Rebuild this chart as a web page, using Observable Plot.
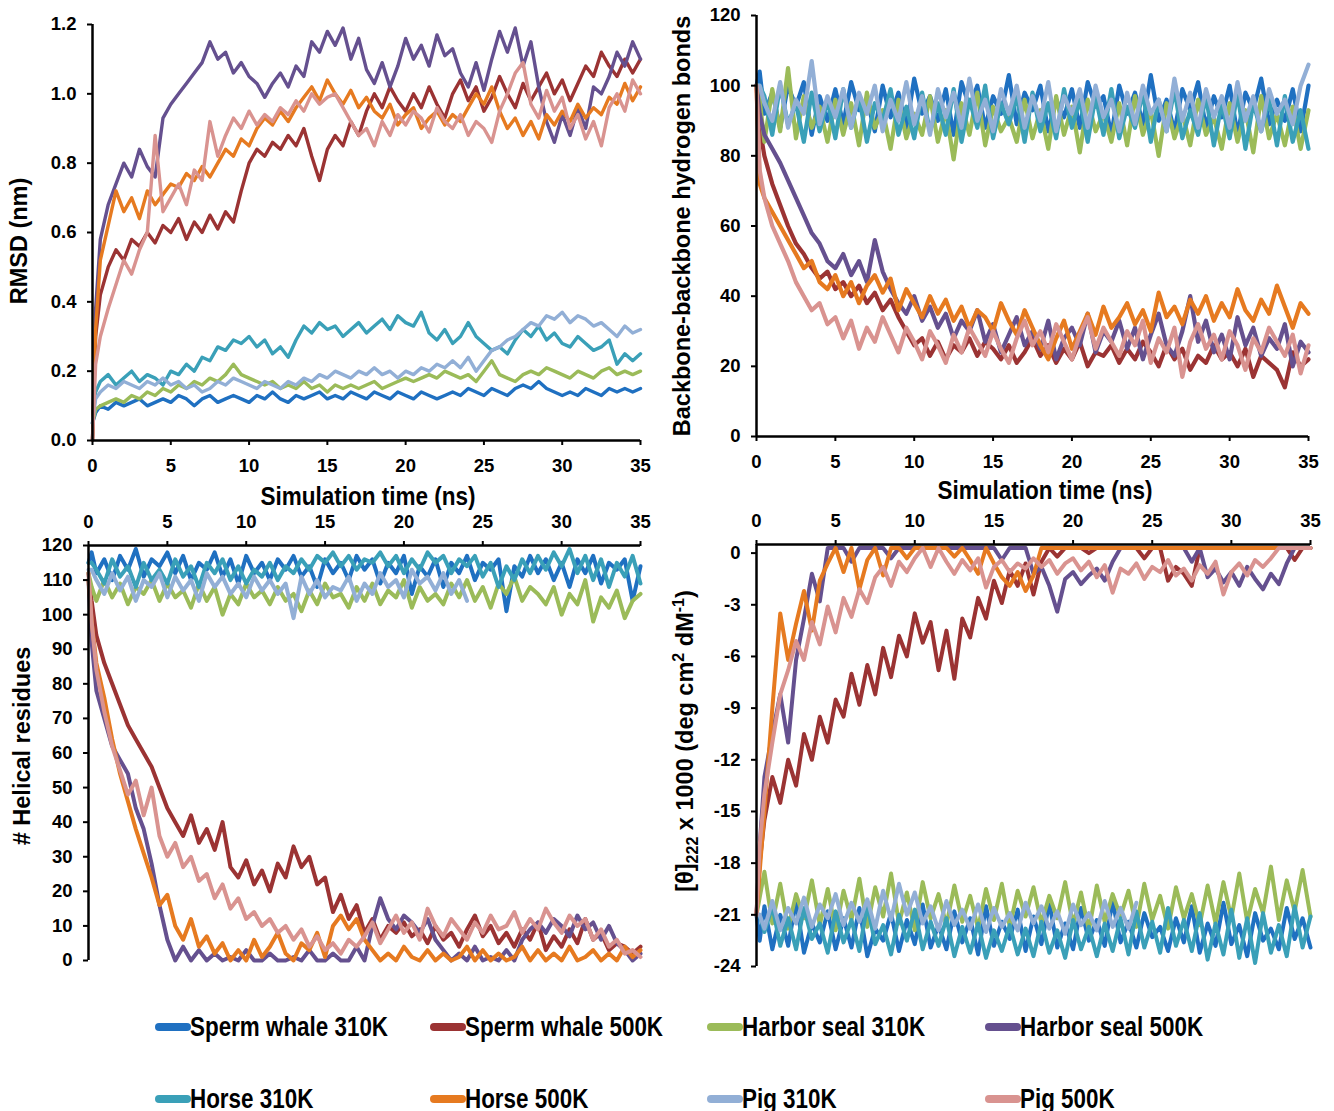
<!DOCTYPE html>
<html><head><meta charset="utf-8">
<script src="https://cdn.jsdelivr.net/npm/d3@7"></script>
<script src="https://cdn.jsdelivr.net/npm/@observablehq/plot@0.6"></script>
<style>
body{margin:0;background:#fff;width:1334px;height:1111px;position:relative;overflow:hidden;font-family:"Liberation Sans",Arial,sans-serif;color:#000}
.panel{position:absolute}
.ylab{position:absolute;font-weight:bold;font-size:23.5px;white-space:nowrap;transform:translate(-50%,-50%) rotate(-90deg);line-height:1}
.xlab{position:absolute;font-weight:bold;font-size:25px;white-space:nowrap;transform:translate(-50%,-50%) scaleX(0.9);line-height:1}
.sw{position:absolute;width:36px;height:8px;border-radius:4px}
.lt{position:absolute;font-weight:bold;font-size:27px;white-space:nowrap;transform:translateY(-50%) scaleX(0.83);transform-origin:left center;line-height:1}
</style></head>
<body>
<div id="tl" class="panel" style="left:0;top:0"></div>
<div id="tr" class="panel" style="left:670px;top:0"></div>
<div id="bl" class="panel" style="left:0;top:500px"></div>
<div id="br" class="panel" style="left:670px;top:500px"></div>
<div class="ylab" style="left:20px;top:241px">RMSD (nm)</div>
<div class="ylab" style="left:683px;top:226px">Backbone-backbone hydrogen bonds</div>
<div class="ylab" style="left:23px;top:746px"># Helical residues</div>
<div class="ylab" style="left:686px;top:741px">[θ]<sub style="font-size:16px">222</sub> x 1000 (deg cm<sup style="font-size:16px">2</sup> dM<sup style="font-size:16px">-1</sup>)</div>
<div class="xlab" style="left:368px;top:496px">Simulation time (ns)</div>
<div class="xlab" style="left:1045px;top:490px">Simulation time (ns)</div>
<div id="legend"></div>
<script>
const NAMES = ["Sperm whale 310K","Sperm whale 500K","Harbor seal 310K","Harbor seal 500K","Horse 310K","Horse 500K","Pig 310K","Pig 500K"];
const COLORS = ["#1f70c1","#9b3333","#9bbb59","#65508f","#3aa0b8","#e67a20","#92afd6","#d99390"];
const XTICKS = [0,5,10,15,20,25,30,35];

const T = [0,0.2,0.5,1,1.5,2,2.5,3,3.5,4,4.5,5,
 5.5,6,6.5,7,7.5,8,8.5,9,9.5,10,10.5,11,
 11.5,12,12.5,13,13.5,14,14.5,15,15.5,16,16.5,17,
 17.5,18,18.5,19,19.5,20,20.5,21,21.5,22,22.5,23,
 23.5,24,24.5,25,25.5,26,26.5,27,27.5,28,28.5,29,
 29.5,30,30.5,31,31.5,32,32.5,33,33.5,34,34.5,35];

// ---- RMSD (nm)
const rmsdTicks = [0,0.2,0.4,0.6,0.8,1.0,1.2];
const rmsdSperm310 = [0.05,0.08,0.10,0.09,0.11,0.10,0.11,0.12,0.10,0.11,0.12,0.11,
 0.13,0.12,0.10,0.12,0.13,0.11,0.12,0.13,0.12,0.11,0.13,0.12,
 0.14,0.12,0.11,0.13,0.12,0.13,0.14,0.12,0.13,0.12,0.14,0.13,
 0.12,0.14,0.13,0.12,0.14,0.13,0.12,0.14,0.13,0.12,0.13,0.14,
 0.13,0.15,0.14,0.13,0.15,0.14,0.13,0.15,0.16,0.15,0.17,0.15,
 0.14,0.13,0.14,0.13,0.15,0.14,0.13,0.15,0.14,0.15,0.14,0.15];
const rmsdSperm500 = [0.00,0.30,0.42,0.50,0.55,0.52,0.58,0.56,0.60,0.57,0.62,0.60,
 0.64,0.58,0.63,0.60,0.65,0.61,0.66,0.63,0.72,0.80,0.84,0.82,
 0.86,0.84,0.88,0.85,0.90,0.82,0.75,0.84,0.88,0.85,0.92,0.88,
 0.95,1.00,0.96,1.02,0.98,0.95,1.00,0.96,1.02,0.97,0.93,1.00,
 1.04,0.98,1.02,0.95,0.99,1.05,1.00,0.96,1.03,0.98,1.02,1.06,
 1.00,1.04,0.98,1.03,1.08,1.05,1.12,1.08,1.05,1.10,1.06,1.10];
const rmsdSeal310 = [0.05,0.09,0.10,0.11,0.12,0.11,0.13,0.12,0.14,0.13,0.15,0.14,
 0.16,0.15,0.17,0.16,0.18,0.17,0.19,0.22,0.19,0.18,0.17,0.16,
 0.17,0.15,0.16,0.15,0.17,0.15,0.16,0.14,0.16,0.15,0.16,0.15,
 0.16,0.17,0.15,0.16,0.17,0.18,0.17,0.18,0.19,0.18,0.20,0.19,
 0.18,0.19,0.17,0.20,0.23,0.19,0.18,0.17,0.19,0.20,0.19,0.21,
 0.20,0.19,0.18,0.20,0.19,0.18,0.20,0.21,0.19,0.20,0.19,0.20];
const rmsdSeal500 = [0.00,0.38,0.58,0.68,0.74,0.80,0.76,0.84,0.79,0.76,0.93,0.97,
 1.00,1.03,1.06,1.09,1.15,1.10,1.12,1.06,1.09,1.05,1.03,0.99,
 1.03,1.06,1.02,1.08,1.05,1.15,1.12,1.18,1.14,1.19,1.10,1.16,
 1.07,1.03,1.09,1.02,1.08,1.16,1.10,1.14,1.08,1.17,1.11,1.13,
 1.06,1.02,1.09,1.01,1.10,1.18,1.12,1.19,1.08,1.15,1.02,0.92,
 0.86,0.94,0.88,0.96,0.90,1.02,1.00,1.05,1.12,1.08,1.15,1.10];
const rmsdHorse310 = [0.05,0.14,0.17,0.19,0.16,0.18,0.20,0.17,0.19,0.18,0.16,0.20,
 0.19,0.22,0.20,0.24,0.23,0.27,0.26,0.29,0.28,0.30,0.27,0.29,
 0.25,0.27,0.24,0.29,0.33,0.31,0.34,0.32,0.33,0.30,0.32,0.34,
 0.31,0.33,0.35,0.32,0.36,0.34,0.33,0.37,0.31,0.29,0.32,0.28,
 0.30,0.34,0.30,0.28,0.26,0.27,0.25,0.29,0.32,0.30,0.33,0.29,
 0.31,0.28,0.27,0.30,0.28,0.26,0.27,0.29,0.22,0.25,0.23,0.25];
const rmsdHorse500 = [0.00,0.32,0.52,0.62,0.72,0.66,0.70,0.64,0.72,0.68,0.71,0.74,
 0.73,0.77,0.75,0.79,0.76,0.80,0.84,0.82,0.87,0.85,0.90,0.93,
 0.91,0.95,0.92,0.96,0.99,1.02,0.98,1.04,1.00,0.97,1.01,0.96,
 0.99,0.95,0.93,0.97,0.91,0.94,0.96,0.90,0.93,0.95,0.91,0.94,
 0.92,0.96,1.00,0.97,1.02,0.95,0.90,0.93,0.88,0.92,0.87,0.94,
 0.91,0.95,0.92,0.97,0.93,0.96,0.94,0.99,0.97,1.03,0.98,1.02];
const rmsdPig310 = [0.05,0.12,0.14,0.16,0.15,0.17,0.16,0.15,0.17,0.16,0.18,0.16,
 0.17,0.15,0.16,0.14,0.15,0.17,0.16,0.18,0.17,0.16,0.15,0.17,
 0.16,0.15,0.17,0.16,0.18,0.17,0.19,0.18,0.20,0.19,0.18,0.20,
 0.19,0.21,0.19,0.20,0.18,0.20,0.19,0.21,0.20,0.22,0.21,0.23,
 0.21,0.24,0.20,0.23,0.26,0.27,0.29,0.30,0.32,0.34,0.33,0.36,
 0.35,0.37,0.34,0.36,0.35,0.33,0.34,0.32,0.30,0.33,0.31,0.32];
const rmsdPig500 = [0.00,0.22,0.30,0.38,0.45,0.52,0.48,0.55,0.60,0.88,0.66,0.70,
 0.74,0.68,0.78,0.75,0.92,0.82,0.88,0.93,0.90,0.95,0.91,0.94,
 0.92,0.96,0.94,0.98,0.95,1.00,0.97,0.99,1.00,0.96,0.92,0.88,
 0.90,0.85,0.92,0.88,0.94,0.91,0.95,0.93,0.89,0.96,0.92,0.90,
 0.94,0.88,0.92,0.90,0.86,0.95,1.00,1.06,1.09,0.97,0.93,1.01,
 0.95,0.99,0.90,0.94,0.87,0.92,0.85,0.96,1.00,0.95,1.04,1.00];

// ---- Backbone-backbone hydrogen bonds
const hbTicks = [0,20,40,60,80,100,120];
const hbSperm310 = [100,104,92,98,88,100,94,101,86,97,90,99,
 89,101,93,96,87,100,91,98,88,102,92,97,
 90,99,86,101,94,100,88,97,92,103,89,98,
 93,100,87,96,91,99,88,101,94,97,86,100,
 92,98,89,103,90,96,87,99,93,101,88,97,
 91,100,86,98,93,102,89,96,90,99,87,100];
const hbSperm500 = [100,88,80,72,66,60,55,52,48,45,47,42,
 44,40,43,38,41,36,39,34,30,26,28,23,
 27,22,26,24,28,23,27,25,22,26,21,24,
 28,23,26,21,25,22,27,20,24,23,26,21,
 25,22,27,24,20,26,22,25,19,23,21,26,
 22,24,20,25,17,23,21,19,14,24,20,22];
const hbSeal310 = [100,96,84,99,87,105,85,97,88,94,84,96,
 86,95,83,98,88,93,82,96,85,92,86,97,
 84,93,79,95,86,98,83,94,87,91,84,96,
 85,93,82,97,86,94,81,96,87,92,84,95,
 83,97,86,93,80,95,85,92,83,96,86,91,
 82,95,84,93,81,97,85,92,83,94,82,93];
const hbSeal500 = [100,92,86,82,78,73,68,63,58,55,50,48,
 52,46,50,44,56,47,42,38,35,40,33,37,
 31,35,28,33,30,36,27,32,24,29,34,26,
 30,25,33,22,28,31,26,35,24,30,27,33,
 25,31,22,29,35,26,23,30,40,27,33,24,
 29,22,34,26,31,23,28,25,32,20,27,24];
const hbHorse310 = [100,100,97,86,100,89,95,84,98,87,96,85,
 99,88,97,84,95,90,99,86,94,85,98,87,
 95,86,99,84,96,88,100,85,95,89,97,84,
 98,87,95,85,99,88,96,84,97,86,99,85,
 94,88,98,84,96,87,99,85,93,86,97,83,
 95,85,98,82,95,87,96,83,97,84,93,82];
const hbHorse500 = [100,72,68,64,60,56,52,48,50,44,42,46,
 40,44,38,43,46,41,45,36,42,38,34,40,
 35,39,33,37,31,36,34,30,38,33,29,36,
 31,26,22,28,33,25,30,35,29,37,31,34,
 38,32,36,30,41,34,37,32,39,35,40,33,
 38,34,42,36,33,39,35,43,37,31,38,35];
const hbPig310 = [100,100,95,90,101,88,96,92,107,89,97,91,
 99,88,98,92,100,87,96,90,101,89,97,86,
 99,91,98,88,102,90,96,87,99,92,100,88,
 97,90,101,87,97,92,99,88,100,91,96,87,
 98,89,100,92,96,87,102,90,98,88,99,91,
 97,88,101,90,97,87,99,92,96,89,100,106];
const hbPig500 = [100,76,68,60,55,50,44,40,36,38,32,34,
 28,33,25,31,27,34,29,24,31,27,22,30,
 26,21,29,24,31,27,23,30,25,21,28,33,
 26,30,24,32,27,22,29,34,25,31,27,23,
 30,26,33,21,28,24,31,17,27,32,25,29,
 22,30,26,19,28,24,31,27,23,29,18,26];

// ---- # Helical residues
const helTicks = [0,10,20,30,40,50,60,70,80,90,100,110,120];
const helSperm310 = [115,118,112,116,110,117,113,119,111,116,114,118,
 112,117,110,115,113,118,111,116,109,117,112,115,
 110,116,113,117,111,114,108,116,112,115,110,117,
 113,116,109,115,112,117,106,114,111,116,108,115,
 112,117,110,115,113,116,101,114,111,117,112,116,
 110,115,108,116,112,117,109,115,113,116,104,114];
const helSperm500 = [112,104,94,86,80,74,68,64,60,56,50,44,
 40,36,42,34,38,32,40,27,24,29,22,26,
 20,28,24,33,27,30,22,24,14,19,12,16,
 8,12,6,10,8,11,7,9,5,10,6,8,
 4,9,13,7,10,5,8,4,9,6,11,3,
 7,4,9,5,12,6,8,3,5,4,2,4];
const helSeal310 = [112,108,104,110,105,109,103,108,106,110,104,109,
 105,107,102,109,104,108,100,106,103,109,105,107,
 103,108,104,106,101,107,103,109,105,106,102,108,
 104,109,103,107,105,110,102,108,104,106,103,109,
 105,110,104,108,102,109,106,111,104,108,106,103,
 108,100,106,103,110,98,105,102,107,99,104,106];
const helSeal500 = [110,92,78,70,62,58,54,44,38,28,16,6,
 0,4,0,3,0,2,0,1,0,3,0,0,
 2,0,0,1,0,3,0,0,2,0,0,4,
 0,10,18,12,9,13,11,8,12,6,3,0,
 2,0,4,0,1,0,3,0,6,9,11,8,
 12,10,7,13,9,11,6,10,5,3,0,2];
const helHorse310 = [115,115,113,109,116,111,114,108,115,110,113,109,
 116,111,114,108,115,112,116,110,114,109,113,111,
 115,110,114,112,116,113,117,115,118,114,117,113,
 116,115,118,114,117,112,116,113,118,115,117,112,
 116,114,117,111,115,108,114,110,116,112,117,113,
 118,114,119,112,117,110,116,108,115,111,117,109];
const helHorse500 = [110,98,86,76,64,54,46,38,31,24,16,19,
 10,6,12,4,7,2,5,0,3,0,6,1,
 4,8,2,0,5,3,8,1,10,13,9,12,
 6,3,0,2,0,4,1,0,3,0,2,0,
 1,4,0,3,0,2,0,1,4,0,3,0,
 2,0,4,0,1,3,0,2,0,4,1,3];
const helPig310 = [113,113,110,106,112,107,111,104,110,108,112,105,
 111,107,110,104,112,108,111,106,109,105,111,107,
 110,106,109,99,111,106,110,105,108,107,111,104,
 109,106,112,108,110,105,113,109,111,107,112,106,
 110,104];
const helPig500 = [112,98,84,72,62,55,48,52,42,50,36,30,
 34,27,30,23,25,18,22,15,18,12,14,10,
 12,8,10,6,9,4,7,3,5,2,6,4,
 7,11,5,9,13,8,11,6,15,10,7,12,
 9,6,11,8,13,9,10,14,8,12,9,15,
 11,8,13,10,12,6,9,4,6,2,3,1];

// ---- [θ]222 x 1000
const cdTicks = [0,-3,-6,-9,-12,-15,-18,-21,-24];
const cdSperm310 = [-21,-22.5,-20.5,-23,-21,-22.8,-20.2,-23.2,-21.5,-22.6,-20.8,-23,
 -21.2,-22.9,-20.6,-23.4,-21.8,-22.5,-20.9,-23.1,-21.3,-22.7,-20.4,-22.9,
 -21.6,-23,-20.8,-22.6,-21.2,-23.3,-20.5,-22.8,-21.4,-22.4,-20.7,-23.1,
 -21.1,-22.7,-20.3,-22.9,-21.5,-23,-20.6,-22.5,-21.3,-22.8,-20.2,-22.6,
 -21.4,-22.9,-20.9,-22.3,-21.7,-23.1,-21.2,-22.6,-20.5,-23.2,-21.5,-22.8,
 -20.3,-22.7,-21.6,-23.4,-20.9,-22.5,-21.8,-23,-20.6,-22.4,-21.2,-22.9];
const cdSperm500 = [-21,-18,-15.5,-13,-14.5,-12,-13.5,-10.5,-12,-9.5,-11,-8.5,
 -9.5,-7,-8.8,-6.5,-8.2,-5.5,-7.2,-4.8,-6,-3.5,-5.2,-4,
 -6.8,-4.5,-7.3,-3.8,-4.9,-2.6,-3.8,-1.6,-2.9,-1,-1.9,-0.6,
 -2.4,-0.5,0.3,-0.2,0.3,0.3,0.3,0,0.3,0.3,0.3,0.3,
 0.3,0.3,-0.3,0.3,0.3,-1.6,-0.8,-1.2,-1.9,0.3,0.3,0.3,
 0.3,0.3,0.3,0.3,0.3,0.3,0.3,0.3,0.3,-0.4,0.3,0.3];
const cdSeal310 = [-21,-20,-18.5,-21.5,-19.2,-21.8,-19.8,-21.2,-19,-21.6,-19.5,-21.9,
 -19.6,-21.3,-18.9,-21.7,-19.4,-21.1,-18.6,-21.5,-19.7,-21.9,-19.1,-21.2,
 -19.8,-21.6,-19.3,-21.4,-19.9,-21.8,-19.5,-21.3,-19.2,-21.7,-19.6,-21.1,
 -19.4,-21.5,-19.9,-21.2,-19.1,-21.6,-19.7,-21.9,-19.3,-21.4,-19.8,-21.1,
 -19.6,-21.7,-19.2,-21.3,-19.9,-21.8,-19.4,-21.2,-19.8,-21.6,-19.3,-21.5,
 -19.1,-21.2,-18.6,-21.4,-19.5,-20.9,-18.2,-21.3,-19,-20.8,-18.4,-21.1];
const cdSeal500 = [-21,-17,-13,-10.5,-8.2,-11,-6.2,-3.8,-1.2,-2.8,0.3,0.3,
 0.3,-0.5,0.3,0.3,0.3,0.3,-0.3,0.3,0.3,0.3,0.3,0.3,
 0.3,0.3,0.3,0.3,0.3,0.3,0.3,0.3,-0.4,0.3,0.3,0.3,
 -1.2,-0.8,-1.9,-3.4,-1.5,-1.1,-1.8,-1.3,-0.9,-1.6,-0.5,0.3,
 0.3,0.3,0.3,0.3,0.3,0.3,0.3,0.3,-0.5,0.3,-1.4,-0.9,
 -1.7,-1.1,-1.9,-0.8,-1.5,-2.1,-1.2,-1.8,-0.6,0.3,0.3,0.3];
const cdHorse310 = [-21,-21,-22,-20.5,-22.8,-21.2,-23,-20.6,-22.4,-21.5,-23.2,-20.8,
 -22.6,-21.3,-23.1,-20.4,-22.7,-21.6,-23.3,-21,-22.5,-20.7,-23,-21.4,
 -22.8,-21.2,-23.4,-21.7,-23.2,-21.5,-23.5,-21.9,-23.1,-21.6,-23.3,-21.8,
 -23.4,-21.4,-23.2,-21.9,-23.5,-21.3,-23,-21.7,-23.4,-21.5,-23.1,-21.2,
 -23.3,-20.8,-22.9,-21.4,-23.2,-20.6,-22.8,-21.3,-23.1,-20.9,-23.6,-21.5,
 -23.3,-20.7,-23.5,-21.2,-23.8,-20.9,-23.2,-21.6,-23.4,-20.5,-22.9,-21.1];
const cdHorse500 = [-21,-18.5,-15,-9,-3.5,-6.2,-4.1,-2.2,-4.5,-1.6,-0.6,0.3,
 -1.1,0.3,-2.1,-0.4,0.3,-1.3,0.3,0.3,-0.3,0.3,0.3,0.3,
 0.3,0.3,-0.2,0.3,-0.4,-1.2,0.3,-0.6,-1.4,-1.9,-1.1,-2.2,
 -1.3,0.3,0.3,0.3,0.3,0.3,0.3,0.3,0.3,0.3,0.3,0.3,
 0.3,0.3,0.3,0.3,0.3,0.3,0.3,0.3,0.3,0.3,0.3,0.3,
 0.3,0.3,0.3,0.3,0.3,0.3,0.3,0.3,0.3,0.3,0.3,0.3];
const cdPig310 = [-21,-21,-21.8,-20.2,-21.9,-20.6,-21.5,-20,-21.7,-20.4,-21.2,-19.8,
 -21.6,-20.3,-21.4,-20.1,-21.8,-19.6,-21.3,-19.2,-21,-19.7,-21.5,-20.5,
 -21.9,-20.2,-21.6,-20.7,-21.8,-20.4,-22,-20.6,-21.7,-20.9,-21.9,-20.3,
 -21.5,-20.5,-21.8,-20.8,-22.1,-20.4,-21.6,-20.9,-21.9,-20.2,-21.7,-20.6,
 -21.8,-20.3];
const cdPig500 = [-21,-17,-14,-11,-8.2,-6.8,-5.1,-6.2,-4,-5.3,-3.1,-4.6,
 -2.6,-3.7,-2.1,-2.9,-1.4,-0.8,-1.9,-0.5,-1.1,-0.3,0.3,-0.8,
 0.3,-0.5,-1.2,-0.4,-1,-0.3,-2,-0.8,-0.4,-1.1,-0.6,-0.9,
 -0.3,-0.8,-0.4,-1.2,-0.6,-0.3,-1,-0.5,-1.4,-0.7,-2.3,-0.9,
 -1.2,-0.6,-1.5,-0.8,-1.1,-0.4,-1.3,-0.9,-1.6,-0.7,-1.2,-0.5,
 -2.4,-1.1,-0.6,-1.3,-0.4,-0.8,-0.3,0.3,0.3,0.3,0.3,0.3];

const FONT = '"Liberation Sans", Arial, sans-serif';

function rows(list) {
  const out = [];
  list.forEach((vals, k) => vals.forEach((v, i) => {
    if (v != null && T[i] != null) out.push({t: T[i], v, s: NAMES[k]});
  }));
  return out;
}

function panel(id, list, o) {
  const data = rows(list);
  const chart = Plot.plot({
    width: o.width, height: o.height,
    marginLeft: o.ml, marginRight: o.mr, marginTop: o.mt, marginBottom: o.mb,
    style: {fontFamily: FONT, fontSize: "18.5px", fontWeight: "bold", color: "#000", background: "transparent", overflow: "visible"},
    x: {domain: [0, 35]},
    y: {domain: o.ydomain},
    color: {domain: NAMES, range: COLORS},
    marks: [
      Plot.line(data, {x: "t", y: "v", z: "s", stroke: "s", strokeWidth: o.sw, strokeLinejoin: "round"}),
      Plot.axisX({anchor: o.xanchor, ticks: XTICKS, tickFormat: d => String(d), tickSize: 5, tickPadding: 13, strokeWidth: 2, label: null}),
      Plot.axisY({ticks: o.yticks, tickFormat: o.yfmt, tickSize: 5, tickPadding: 11, strokeWidth: 2, label: null}),
      Plot.ruleX([0], {stroke: "#000", strokeWidth: 2.5}),
      Plot.ruleY([o.xline], {stroke: "#000", strokeWidth: 2.5})
    ]
  });
  document.getElementById(id).append(chart);
}

panel("tl", [rmsdSperm310, rmsdSperm500, rmsdSeal310, rmsdSeal500, rmsdHorse310, rmsdHorse500, rmsdPig310, rmsdPig500],
  {width: 660, height: 500, ml: 92, mr: 20, mt: 24, mb: 60, ydomain: [0, 1.2], yticks: rmsdTicks, yfmt: d => d.toFixed(1), xanchor: "bottom", xline: 0, sw: 3.4});
panel("tr", [hbSperm310, hbSperm500, hbSeal310, hbSeal500, hbHorse310, hbHorse500, hbPig310, hbPig500],
  {width: 664, height: 500, ml: 86, mr: 26, mt: 15, mb: 64, ydomain: [0, 120], yticks: hbTicks, yfmt: d => String(d), xanchor: "bottom", xline: 0, sw: 4.2});
panel("bl", [helSperm310, helSperm500, helSeal310, helSeal500, helHorse310, helHorse500, helPig310, helPig500],
  {width: 660, height: 480, ml: 88, mr: 20, mt: 45, mb: 20, ydomain: [0, 120], yticks: helTicks, yfmt: d => String(d), xanchor: "top", xline: 120, sw: 4});
panel("br", [cdSperm310, cdSperm500, cdSeal310, cdSeal500, cdHorse310, cdHorse500, cdPig310, cdPig500],
  {width: 664, height: 480, ml: 86, mr: 24, mt: 44, mb: 14, ydomain: [-24, 0.5], yticks: cdTicks, yfmt: d => String(d), xanchor: "top", xline: 0.5, sw: 4});

// legend
const LEG_X = [155, 430, 707, 985];
const LEG_Y = [1027, 1099];
const leg = document.getElementById("legend");
NAMES.forEach((n, i) => {
  const x = LEG_X[i % 4], y = LEG_Y[Math.floor(i / 4)];
  const sw = document.createElement("div");
  sw.className = "sw"; sw.style.left = x + "px"; sw.style.top = (y - 4) + "px"; sw.style.background = COLORS[i];
  const tx = document.createElement("div");
  tx.className = "lt"; tx.style.left = (x + 35) + "px"; tx.style.top = y + "px"; tx.textContent = n;
  leg.append(sw, tx);
});
</script>
</body></html>
